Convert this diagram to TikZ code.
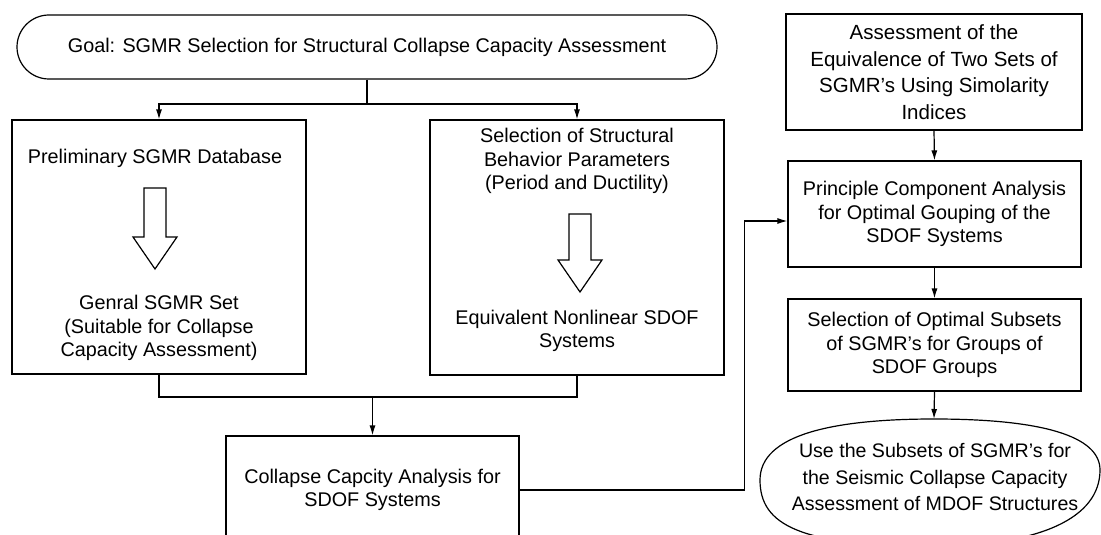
\documentclass[tikz,border=0pt]{standalone}
\usepackage{fontspec}
\setmainfont{Liberation Sans}
\usetikzlibrary{arrows.meta,calc,positioning,shapes.geometric}

\tikzset{
	flowbox/.style={draw, line width=1.2pt, inner sep=0pt},
	flowtext/.style={align=center, font=\fontsize{19.8}{23.5}\selectfont},
	link/.style={line width=1.2pt, -{Latex[length=10pt,width=6pt]}},
	wire/.style={line width=1.2pt},
	hollowdown/.pic={
		\draw[line width=1.2pt] (-11,0) -- (-11,#1) -- (-22,#1) -- (0,#1+32)
			-- (22,#1) -- (11,#1) -- (11,0) -- cycle;
	}
}

\begin{document}
\begin{tikzpicture}[x=1pt,y=-1pt]
		\useasboundingbox (0,0) rectangle (1101,535);
		\clip (0,0) rectangle (1101,535);
		% goal
		\node[flowbox, flowtext, rounded corners=32pt, minimum width=700pt, minimum height=64pt] (goal) at (367,47) {Goal: SGMR Selection for Structural Collapse Capacity Assessment};
		\coordinate (split) at (367,104);
		% left column
		\node[flowbox, minimum width=294pt, minimum height=254pt] (lbox) at (159,247) {};
		\node[flowtext] (prelim) at (155,158) {Preliminary SGMR Database};
		\pic at (155,188) {hollowdown=49};
		\node[flowtext] (general) at (159,328) {Genral SGMR Set\\(Suitable for Collapse\\Capacity Assessment)};
		% middle column
		\node[flowbox, minimum width=294pt, minimum height=255pt] (mbox) at (577,247.5) {};
		\node[flowtext] (behav) at (577,161) {Selection of Structural\\Behavior Parameters\\(Period and Ductility)};
		\pic at (580,214) {hollowdown=46};
		\node[flowtext] (equiv) at (577,331) {Equivalent Nonlinear SDOF\\Systems};
		% collapse analysis
		\coordinate (merge) at (372.5,397);
		\node[flowbox, flowtext, minimum width=293pt, minimum height=108pt] (coll) at (372.5,490) {Collapse Capcity Analysis for\\SDOF Systems};
		% right column
		\node[flowbox, flowtext, font=\fontsize{20.5}{26.5}\selectfont, minimum width=296pt, minimum height=116pt] (assess) at (934,72) {Assessment of the\\Equivalence of Two Sets of\\SGMR's Using Simolarity\\Indices};
		\node[flowbox, flowtext, minimum width=293pt, minimum height=106pt] (pca) at (934.5,214) {Principle Component Analysis\\for Optimal Gouping of the\\SDOF Systems};
		\node[flowbox, flowtext, minimum width=293pt, minimum height=92pt] (subsets) at (934.5,345) {Selection of Optimal Subsets\\of SGMR's for Groups of\\SDOF Groups};
		% end oval, flatter than an ellipse
		\coordinate (usetop) at (934,419);
		\draw[wire] (usetop) .. controls (832,419) and (760,435) .. (760,480)
			.. controls (760,525) and (800,546) .. (932,546)
			.. controls (1040,546) and (1100,518) .. (1100,470)
			.. controls (1100,436) and (1042,419) .. (usetop);
		\node[flowtext, font=\fontsize{19.6}{26.5}\selectfont] (use) at (935,477) {Use the Subsets of SGMR's for\\the Seismic Collapse Capacity\\Assessment of MDOF Structures};
		% connectors
		\draw[wire] (goal.south) -- (split);
		\draw[link] (split) -| (lbox.north);
		\draw[link] (split) -| (mbox.north);
		\draw[wire] (lbox.south) -- (lbox.south |- merge) -- (mbox.south |- merge) -- (mbox.south);
		\draw[link] (merge) -- (coll.north);
		\draw[link] (coll.east) -- ++(225,0) |- ($(pca.west)+(0,7)$);
		\draw[link] (assess.south) -- (pca.north);
		\draw[link] (pca.south) -- (subsets.north);
		\draw[link] (subsets.south) -- (usetop);
\end{tikzpicture}
\end{document}
